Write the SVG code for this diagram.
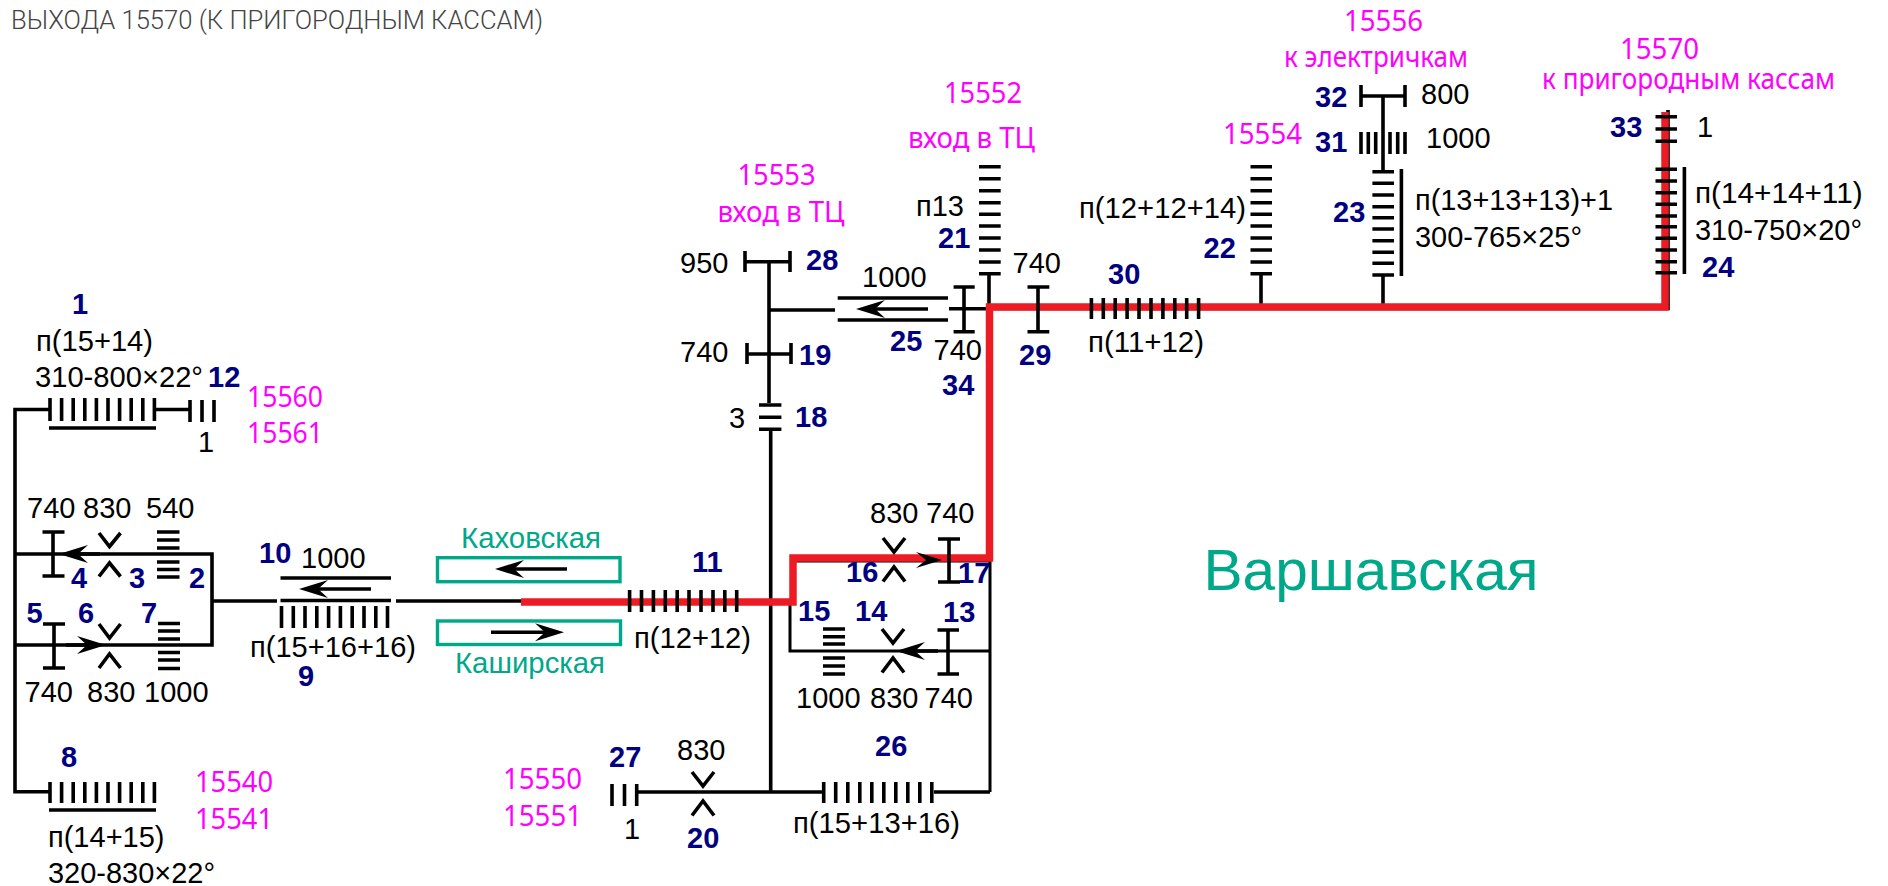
<svg xmlns="http://www.w3.org/2000/svg" width="1888" height="886" viewBox="0 0 1888 886">
<style>
text{font-family:"Liberation Sans",Arial,sans-serif;font-size:29px;fill:#000}
.n{font-weight:700;fill:#000080}
.p{font-family:"Noto Sans","Liberation Sans",sans-serif;font-size:29px;fill:#ff00ff}
.g{font-size:30px;fill:#00a88a}
.h{font-family:Roboto,"Liberation Sans",sans-serif;font-weight:300;font-size:26px;fill:#444}
.s{stroke:#000;stroke-width:3.6;fill:none}
.v{stroke:#000;stroke-width:3;fill:none}
.r{stroke:#ed1c24;stroke-width:7.5;fill:none;stroke-linejoin:miter}
.a{stroke:#000;stroke-width:3.6;fill:none;marker-end:url(#ah)}
.box{stroke:#00a88a;stroke-width:3.4;fill:#fff}
</style>
<defs>
<marker id="ah" markerUnits="userSpaceOnUse" markerWidth="29" markerHeight="20" viewBox="0 -10 29 20" refX="10" refY="0" orient="auto"><path d="M0-9L10 0L0 9L29 0Z" fill="#000"/></marker>
</defs>
<rect width="1888" height="886" fill="#fff"/>
<text class="h" x="11" y="28.500" textLength="532" lengthAdjust="spacingAndGlyphs">ВЫХОДА 15570 (К ПРИГОРОДНЫМ КАССАМ)</text>

<g id="connectors">
<path class="s" d="M50 409.500H15V791.700H50"/>
<path class="s" d="M154 409.500H190"/>
<path class="s" d="M15 554H212V645H15"/>
<path class="s" d="M212 601H277M396 601H525"/>
<path class="s" d="M636 792H822M934 792H990"/>
<path class="v" d="M990 792V558"/>
<path class="v" d="M790 600V651H990M790 561H990"/>
<path class="s" d="M769 262V403M770.700 429V792M769 310H835"/>
<path class="s" d="M949 308.700H986M989 274V307"/>
<path class="s" d="M1261 274V304M1383 96V171M1383 275V305"/>
<path class="s" d="M989 308.500H1668V110" stroke-width="3"/>
<path class="r" d="M521 602H793V558H989.500V307H1665V112"/>
</g>

<g id="node-1"><text class="n" x="72" y="314">1</text><text x="36" y="351" textLength="117" lengthAdjust="spacingAndGlyphs">п(15+14)</text><text x="35" y="387" textLength="168" lengthAdjust="spacingAndGlyphs">310-800×22°</text>
<path class="s" d="M50 398V421M61.600 398V421M73.200 398V421M84.800 398V421M96.400 398V421M108 398V421M119.600 398V421M131.200 398V421M142.800 398V421M154.400 398V421M49 428H156"/></g>
<g id="node-12"><text class="n" x="208" y="387">12</text><text x="198" y="452">1</text>
<path class="s" d="M190 400V422M202 400V422M214 400V422"/></g>
<g id="exit-15560"><text class="p" x="247" y="407" textLength="76" lengthAdjust="spacingAndGlyphs">15560</text><text class="p" x="247" y="443" textLength="76" lengthAdjust="spacingAndGlyphs">15561</text></g>

<g id="node-4"><text x="27" y="518">740</text><text class="n" x="71" y="588">4</text><path class="s" d="M53 532V576M42.500 532H64.500M42.500 576H64.500"/></g>
<g id="node-3"><text x="83" y="518">830</text><text class="n" x="129" y="588">3</text><path class="s" d="M99 533L109.500 546.500L120.500 533M99 576.500L109.500 563L120.500 576.500"/><line class="a" x1="100" y1="554" x2="78" y2="554"/></g>
<g id="node-2"><text x="146" y="518">540</text><text class="n" x="189" y="588">2</text><path class="s" d="M157 532H179.500M157 540H179.500M157 548H179.500M157 562H179.500M157 569.500H179.500M157 577H179.500"/></g>
<g id="node-5"><text class="n" x="26.500" y="623">5</text><text x="24.500" y="702">740</text><path class="s" d="M54 624V668M43 624H65M43 668H65"/></g>
<g id="node-6"><text class="n" x="78" y="623">6</text><text x="87" y="702">830</text><path class="s" d="M99 624L109.500 638L120.500 624M99 668L109.500 654L120.500 668"/><line class="a" x1="66" y1="645" x2="87" y2="645"/></g>
<g id="node-7"><text class="n" x="141" y="623">7</text><text x="144" y="702">1000</text><path class="s" d="M158 623.500H180M158 631H180M158 639H180M158 652.500H180M158 660H180M158 668.500H180"/></g>

<g id="node-10"><text class="n" x="259" y="563">10</text><text x="301" y="568">1000</text><path class="s" d="M280.500 578H391M280.500 600.500H391"/><line class="a" x1="371" y1="589" x2="318" y2="589"/></g>
<g id="node-9"><text class="n" x="298" y="686">9</text><text x="250" y="657" textLength="166" lengthAdjust="spacingAndGlyphs">п(15+16+16)</text>
<path class="s" d="M281.500 606V628M293.300 606V628M305 606V628M316.800 606V628M328.600 606V628M340.400 606V628M352.200 606V628M364 606V628M375.800 606V628M387.500 606V628"/></g>

<g id="line-kakhovskaya"><rect class="box" x="437.500" y="557.700" width="182.500" height="24"/><line class="a" x1="567" y1="569" x2="514" y2="569"/><text class="g" x="461" y="548" textLength="140" lengthAdjust="spacingAndGlyphs">Каховская</text></g>
<g id="line-kashirskaya"><rect class="box" x="437.500" y="621" width="183" height="23.500"/><line class="a" x1="491" y1="632.300" x2="545" y2="632.300"/><text class="g" x="455" y="673" textLength="150" lengthAdjust="spacingAndGlyphs">Каширская</text></g>

<g id="node-8"><text class="n" x="61" y="767">8</text><text x="48" y="847" textLength="116.500" lengthAdjust="spacingAndGlyphs">п(14+15)</text><text x="48" y="883" textLength="167" lengthAdjust="spacingAndGlyphs">320-830×22°</text>
<path class="s" d="M50 782V803M61.600 782V803M73.200 782V803M84.800 782V803M96.400 782V803M108 782V803M119.600 782V803M131.200 782V803M142.800 782V803M154.400 782V803M49 810H156"/></g>
<g id="exit-15540"><text class="p" x="195" y="792" textLength="78" lengthAdjust="spacingAndGlyphs">15540</text><text class="p" x="195" y="829" textLength="78" lengthAdjust="spacingAndGlyphs">15541</text></g>
<g id="exit-15550"><text class="p" x="503" y="789" textLength="79" lengthAdjust="spacingAndGlyphs">15550</text><text class="p" x="503" y="826" textLength="79" lengthAdjust="spacingAndGlyphs">15551</text></g>
<g id="node-27"><text class="n" x="609" y="767">27</text><text x="624" y="839">1</text><path class="s" d="M612 784V806M624.500 784V806M636.700 784V806"/></g>
<g id="node-20"><text x="677" y="760">830</text><text class="n" x="687" y="848">20</text><path class="s" d="M692 772L703 786L714 772M692 815.500L703 801L714 815.500"/></g>
<g id="node-26"><text class="n" x="875" y="756">26</text><text x="793" y="833" textLength="167" lengthAdjust="spacingAndGlyphs">п(15+13+16)</text>
<path class="s" d="M823.700 782V803M835.700 782V803M847.800 782V803M859.800 782V803M871.800 782V803M883.800 782V803M895.800 782V803M907.800 782V803M919.800 782V803M931.800 782V803"/></g>
<g id="node-11"><text class="n" x="692" y="572">11</text><text x="634" y="648" textLength="117" lengthAdjust="spacingAndGlyphs">п(12+12)</text>
<path class="s" d="M629.600 590V612M641.500 590V612M653.400 590V612M665.300 590V612M677.200 590V612M689 590V612M701 590V612M713 590V612M724.800 590V612M736.700 590V612"/></g>

<g id="node-16"><text x="870" y="523">830</text><text class="n" x="846" y="582">16</text><path class="s" d="M883 538L894 552L905 538M883 581.500L894 567L905 581.500"/><path d="M916 552L942 560L916 568L926 560Z"/></g>
<g id="node-17"><text x="926" y="523">740</text><text class="n" x="958" y="583">17</text><path class="s" d="M949 539V582M938 539H960M938 582H960"/></g>
<g id="node-15"><text class="n" x="798" y="621">15</text><text x="796" y="708">1000</text><path class="s" d="M823 629H845M823 636.700H845M823 644H845M823 658H845M823 666H845M823 674H845"/></g>
<g id="node-14"><text class="n" x="855" y="621">14</text><text x="870" y="708">830</text><path class="s" d="M882 629L893 643L904 629M882 672.500L893 658L904 672.500"/><line class="a" x1="938" y1="651" x2="915" y2="651"/></g>
<g id="node-13"><text class="n" x="943" y="622">13</text><text x="924.500" y="708">740</text><path class="s" d="M948 630V674M937.500 630H959M937.500 674H959"/></g>

<g id="exit-15552"><text class="p" x="944" y="103" textLength="78" lengthAdjust="spacingAndGlyphs">15552</text><text class="p" x="908" y="148" textLength="127" lengthAdjust="spacingAndGlyphs">вход в ТЦ</text></g>
<g id="exit-15553"><text class="p" x="737.500" y="185" textLength="78" lengthAdjust="spacingAndGlyphs">15553</text><text class="p" x="717.500" y="222" textLength="127" lengthAdjust="spacingAndGlyphs">вход в ТЦ</text></g>
<g id="node-21"><text x="916" y="216">п13</text><text class="n" x="938" y="248">21</text>
<path class="s" d="M979 166.700H1000.700M979 178.700H1000.700M979 190.700H1000.700M979 202.700H1000.700M979 214.300H1000.700M979 226H1000.700M979 238H1000.700M979 250H1000.700M979 262H1000.700M979 273.700H1000.700"/></g>
<g id="node-28"><text x="680" y="273">950</text><text class="n" x="806" y="270">28</text><path class="s" d="M745 251V272M790 251V272M745 261.700H790"/></g>
<g id="node-19"><text x="680" y="362">740</text><text class="n" x="799" y="365">19</text><path class="s" d="M747 343V364M791 343V364M747 354H791"/></g>
<g id="node-18"><text x="729" y="428">3</text><text class="n" x="795" y="427">18</text><path class="s" d="M759 405H781.400M759 417.300H781.400M759 429.300H781.400"/></g>
<g id="node-25"><text x="862" y="287">1000</text><text class="n" x="890" y="351">25</text><path class="s" d="M837.700 298H948M837.700 320H948"/><line class="a" x1="928" y1="309" x2="875" y2="309"/></g>
<g id="node-34"><text x="933.500" y="360">740</text><text class="n" x="942" y="395">34</text><path class="s" d="M964 287V331.700M953.600 287H974.700M953.600 331.700H974.700"/></g>
<g id="node-29"><text x="1012.500" y="273">740</text><text class="n" x="1019" y="365">29</text><path class="s" d="M1038 287V331.700M1027.500 287H1049.300M1027.500 331.700H1049.300"/></g>
<g id="node-30"><text class="n" x="1108" y="284">30</text><text x="1088" y="352" textLength="116" lengthAdjust="spacingAndGlyphs">п(11+12)</text>
<path class="s" d="M1091.400 298V319M1103.300 298V319M1115.200 298V319M1127.100 298V319M1139 298V319M1151 298V319M1162.900 298V319M1174.800 298V319M1186.700 298V319M1198.600 298V319"/></g>
<g id="node-22"><text x="1079" y="218" textLength="167" lengthAdjust="spacingAndGlyphs">п(12+12+14)</text><text class="n" x="1203.500" y="258">22</text>
<path class="s" d="M1250.500 166.700H1272M1250.500 178.700H1272M1250.500 190.700H1272M1250.500 202.700H1272M1250.500 214.300H1272M1250.500 226H1272M1250.500 238H1272M1250.500 250H1272M1250.500 262H1272M1250.500 273.700H1272"/></g>
<g id="exit-15554"><text class="p" x="1223" y="144" textLength="79" lengthAdjust="spacingAndGlyphs">15554</text></g>
<g id="exit-15556"><text class="p" x="1344" y="31" textLength="79" lengthAdjust="spacingAndGlyphs">15556</text><text class="p" x="1284" y="67" textLength="184" lengthAdjust="spacingAndGlyphs">к электричкам</text></g>
<g id="node-32"><text class="n" x="1315" y="107">32</text><text x="1421" y="104">800</text><path class="s" d="M1361 85V107M1405 85V107M1361 96H1405"/></g>
<g id="node-31"><text class="n" x="1315" y="152">31</text><text x="1426" y="148">1000</text><path class="s" d="M1361 132V154M1368.300 132V154M1375.700 132V154M1390 132V154M1397.700 132V154M1405 132V154"/></g>
<g id="node-23"><text class="n" x="1333" y="222">23</text><text x="1415" y="210" textLength="198" lengthAdjust="spacingAndGlyphs">п(13+13+13)+1</text><text x="1415" y="247" textLength="167" lengthAdjust="spacingAndGlyphs">300-765×25°</text>
<path class="s" d="M1372.400 171.700H1394M1372.400 183.300H1394M1372.400 195H1394M1372.400 206.700H1394M1372.400 217.700H1394M1372.400 229H1394M1372.400 240.700H1394M1372.400 252.300H1394M1372.400 263.300H1394M1372.400 275H1394M1401.400 169V276"/></g>
<g id="exit-15570"><text class="p" x="1620" y="59" textLength="79" lengthAdjust="spacingAndGlyphs">15570</text><text class="p" x="1542" y="89" textLength="293" lengthAdjust="spacingAndGlyphs">к пригородным кассам</text></g>
<g id="node-33"><text class="n" x="1610" y="137">33</text><text x="1697" y="137">1</text><path class="s" d="M1655.500 116.700H1677M1655.500 129H1677M1655.500 141.300H1677"/></g>
<g id="node-24"><text x="1695" y="203" textLength="167.600" lengthAdjust="spacingAndGlyphs">п(14+14+11)</text><text x="1695" y="240" textLength="167" lengthAdjust="spacingAndGlyphs">310-750×20°</text><text class="n" x="1702" y="277">24</text>
<path class="s" d="M1655.500 169.300H1677M1655.500 181H1677M1655.500 192.700H1677M1655.500 204.300H1677M1655.500 216H1677M1655.500 226.700H1677M1655.500 238.300H1677M1655.500 250H1677M1655.500 261.700H1677M1655.500 272.700H1677M1684.400 167V274"/></g>
<text class="g" x="1203.500" y="590" style="font-size:57px" textLength="335" lengthAdjust="spacingAndGlyphs">Варшавская</text>
</svg>
